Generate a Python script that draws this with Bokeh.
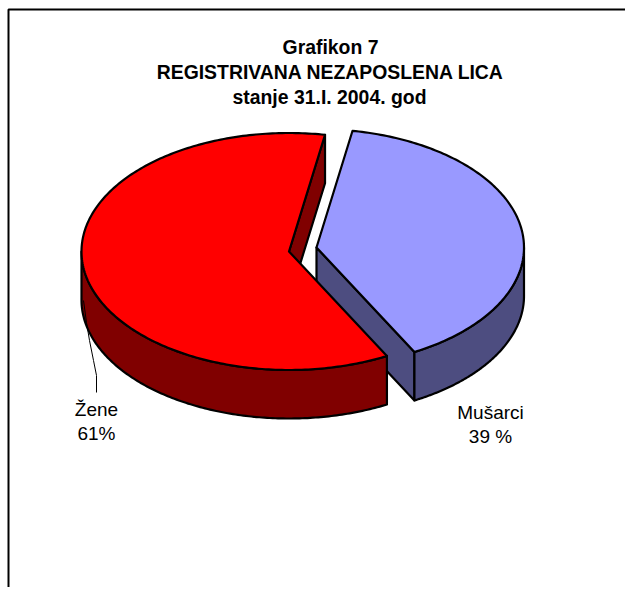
import numpy as np
from bokeh.embed import file_html
from bokeh.models import ColumnDataSource
from bokeh.plotting import figure
from bokeh.resources import INLINE
from bokeh.core.properties import value

# Data
categories = ["Mušarci", "Žene"]
shares = [39.4, 60.6]
labels = ["Mušarci\n39 %", "Žene\n61%"]
top_colors = ["#9999FF", "#FF0000"]
side_colors = ["#4D4D80", "#800000"]
title_lines = ["Grafikon 7", "REGISTRIVANA NEZAPOSLENA LICA", "stanje 31.I. 2004. god"]

# Projection of the tilted pie, in figure pixels
START_DEG = 10.0
RX, RY, DEPTH = 207.5, 118.5, 48.5
APEX = {"Mušarci": (316.0, 247.0), "Žene": (288.5, 251.0)}

p = figure(width=625, height=587, x_range=(0, 625), y_range=(587, 0),
           toolbar_location=None, output_backend="svg", min_border=0,
           outline_line_color=None, background_fill_color="white",
           border_fill_color="white")
p.axis.visible = False
p.grid.visible = False


def arc(cat, a0, a1, dz=0.0, n=160):
    cx, cy = APEX[cat]
    t = np.radians(np.linspace(a0, a1, n))
    return cx + RX * np.sin(t), cy - RY * np.cos(t) + dz


def poly(xs, ys, fill):
    p.patch(list(xs), list(ys), fill_color=fill, line_color="black", line_width=2.2,
            line_join="round")


bounds = np.cumsum([0.0] + shares) / sum(shares) * 360.0 + START_DEG
a_b0, a_b1 = bounds[0], bounds[1]   # Mušarci
a_r0, a_r1 = bounds[1], bounds[2]   # Žene
blue, red = categories

# Mušarci: cut face, outer wall, top
cx, cy = APEX[blue]
ox, oy = arc(blue, a_b1, a_b1, n=1)
poly([cx, ox[0], ox[0], cx], [cy, oy[0], oy[0] + DEPTH, cy + DEPTH], side_colors[0])
wx, wy = arc(blue, 90, a_b1)
wx2, wy2 = arc(blue, a_b1, 90, DEPTH)
poly(np.r_[wx, wx2], np.r_[wy, wy2], side_colors[0])
tx, ty = arc(blue, a_b0, a_b1)
poly(np.r_[cx, tx], np.r_[cy, ty], top_colors[0])

# Žene: rear cut face, outer wall, top
cx, cy = APEX[red]
ox, oy = arc(red, a_r1, a_r1, n=1)
poly([cx, ox[0], ox[0], cx], [cy, oy[0], oy[0] + DEPTH, cy + DEPTH], side_colors[1])
wx, wy = arc(red, a_r0, 270)
wx2, wy2 = arc(red, 270, a_r0, DEPTH)
poly(np.r_[wx, wx2], np.r_[wy, wy2], side_colors[1])
tx, ty = arc(red, a_r0, a_r1, n=240)
poly(np.r_[cx, tx], np.r_[cy, ty], top_colors[1])

# Leader line of the Žene label
p.line([83, 86, 89, 93, 96, 96], [300, 322, 340, 360, 375, 392], line_color="black", line_width=1)

# Frame running off the page
p.line([8, 8, 625], [587, 9, 9], line_color="black", line_width=2)

# Title
title_src = ColumnDataSource(dict(x=[330, 330, 329], y=[46, 71, 96], t=title_lines))
p.text("x", "y", "t", source=title_src, text_font=value("Liberation Sans"), text_font_style="bold",
       text_font_size="19.4px", text_align="center", text_baseline="middle", text_color="black")

# Data labels
lab = []
for txt, x, y in zip(labels, [490, 96], [412, 409]):
    for i, part in enumerate(txt.split("\n")):
        lab.append((x, y + i * 23.5, part))
lab_src = ColumnDataSource(dict(x=[a[0] for a in lab], y=[a[1] for a in lab], t=[a[2] for a in lab]))
p.text("x", "y", "t", source=lab_src, text_font=value("Liberation Sans"), text_font_size="19px",
       text_align="center", text_baseline="middle", text_color="black")

open("out.html", "w").write(file_html(p, INLINE))
